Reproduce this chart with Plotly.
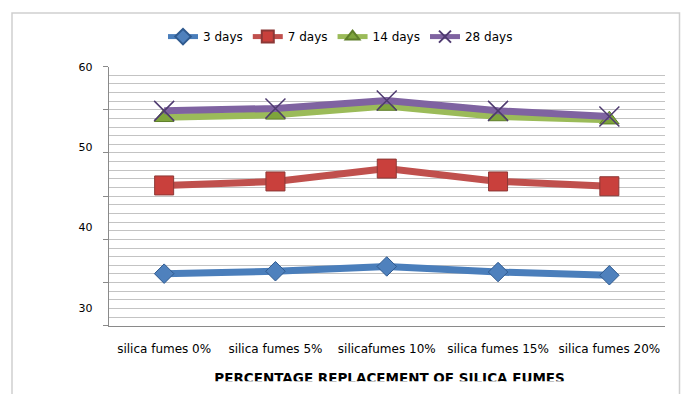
import plotly.graph_objects as go

# Categories along the x axis
categories = ["silica fumes 0%", "silica fumes 5%", "silicafumes 10%",
              "silica fumes 15%", "silica fumes 20%"]

# Compressive strength per curing age
days_3 = [34.5, 34.8, 35.4, 34.7, 34.3]
days_7 = [45.5, 46.0, 47.6, 46.0, 45.4]
days_14 = [54.0, 54.3, 55.4, 54.1, 53.7]
days_28 = [54.8, 55.1, 56.1, 54.8, 54.1]

y_tick_labels = [30, 40, 50, 60]
x_title = "PERCENTAGE REPLACEMENT OF SILICA FUMES"

W, H = 681, 394
FONT = "DejaVu Sans"

# plot area in pixels
PL, PR, PT, PB = 108.5, 665, 62.3, 325


def px_x(p):
    return p / W


def px_y(p):
    return (H - p) / H


fig = go.Figure()

# value axis (y2) carries the series; base axis (y) carries the grid
fig.add_trace(go.Scatter(
    x=[None], y=[None], yaxis="y", showlegend=False, hoverinfo="skip",
))

fig.add_trace(go.Scatter(
    x=categories, y=days_3, name="3 days", mode="lines+markers", yaxis="y2",
    line=dict(color="#4a7ebb", width=7),
    marker=dict(symbol="diamond", size=15, color="#4f81bd",
                line=dict(color="#2f5a8f", width=1)),
))
fig.add_trace(go.Scatter(
    x=categories, y=days_7, name="7 days", mode="lines+markers", yaxis="y2",
    line=dict(color="#c0504d", width=7),
    marker=dict(symbol="square", size=19, color="#c9403c",
                line=dict(color="#8c3836", width=1)),
))
fig.add_trace(go.Scatter(
    x=categories, y=days_14, name="14 days", mode="lines+markers", yaxis="y2",
    line=dict(color="#9bbb59", width=7),
    marker=dict(symbol="triangle-up", size=17, color="#7ea43c",
                line=dict(color="#5f7f2a", width=1)),
))
fig.add_trace(go.Scatter(
    x=categories, y=days_28, name="28 days", mode="lines+markers", yaxis="y2",
    line=dict(color="#7f63a1", width=7),
    marker=dict(symbol="x-thin", size=20, color="#4e3a70",
                line=dict(color="#4e3a70", width=1.5)),
))

# Axis title, clipped by its own strip at the bottom edge
fig.add_trace(go.Scatter(
    x=[0.505], y=[0.04], xaxis="x3", yaxis="y3", mode="text",
    text=[x_title], textposition="middle center",
    textfont=dict(family=FONT, size=13.5, color="#000000", weight="bold"),
    cliponaxis=True, showlegend=False, hoverinfo="skip",
))

grid_color = "#c3c3c3"
axis_color = "#8a8a8a"

fig.update_layout(
    width=W, height=H,
    margin=dict(l=0, r=0, t=0, b=0),
    paper_bgcolor="white", plot_bgcolor="white",
    font=dict(family=FONT, size=12, color="#000000"),
    showlegend=True,
    legend=dict(
        orientation="h", x=0.5, xanchor="center",
        y=px_y(32), yanchor="middle",
        font=dict(family=FONT, size=12, color="#000000"),
        itemsizing="constant", bgcolor="rgba(0,0,0,0)",
    ),
    xaxis=dict(
        domain=[px_x(PL), px_x(PR)],
        type="category", range=[-0.5, 4.5],
        showgrid=False, zeroline=False,
        showline=True, linecolor=axis_color, linewidth=1,
        ticks="", tickangle=0, ticklabelstandoff=12,
        tickfont=dict(family=FONT, size=12, color="#000000"),
        anchor="y",
    ),
    yaxis=dict(
        domain=[px_y(PB), px_y(PT)],
        range=[30, 60], dtick=5, tick0=30,
        showgrid=True, gridcolor=grid_color, gridwidth=1,
        minor=dict(dtick=1, showgrid=True, gridcolor=grid_color, gridwidth=1),
        zeroline=False,
        showline=True, linecolor=axis_color, linewidth=1,
        ticks="outside", ticklen=5, tickcolor=axis_color,
        showticklabels=False,
        anchor="x",
    ),
    yaxis2=dict(
        overlaying="y", side="left", anchor="x",
        range=[27.99, 60.33],
        tickvals=y_tick_labels,
        showgrid=False, zeroline=False, showline=False,
        ticks="", ticklabelstandoff=15, ticklabelshift=-2,
        tickfont=dict(family=FONT, size=11, color="#000000"),
    ),
    xaxis3=dict(
        domain=[px_x(PL), px_x(PR)], range=[0, 1], anchor="y3",
        visible=False, fixedrange=True,
    ),
    yaxis3=dict(
        domain=[px_y(381), px_y(355)], range=[0, 1], anchor="x3",
        visible=False, fixedrange=True,
    ),
    shapes=[dict(
        type="rect", xref="paper", yref="paper",
        x0=px_x(12), x1=px_x(679.5), y0=-0.1, y1=px_y(8),
        line=dict(color="#cfcfcf", width=1.5), fillcolor="rgba(0,0,0,0)",
        layer="below",
    )],
)

fig.write_html("out.html")
